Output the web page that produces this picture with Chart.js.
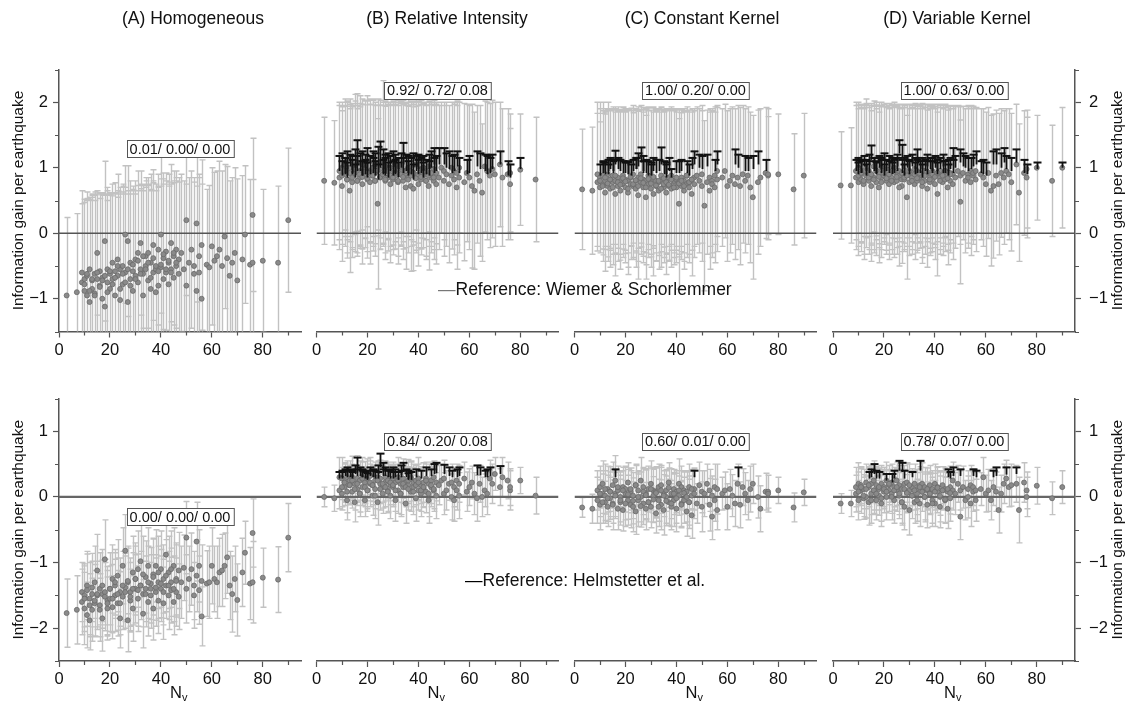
<!DOCTYPE html>
<html><head><meta charset="utf-8">
<script src="https://cdn.jsdelivr.net/npm/chart.js@4.4.1/dist/chart.umd.min.js"></script>
<style>
html,body{margin:0;padding:0;background:#fff}
body{width:1131px;height:710px;position:relative;overflow:hidden;font-family:"Liberation Sans",Arial,Helvetica,sans-serif;color:#111}
canvas{position:absolute;left:0;top:0}
.t{position:absolute;white-space:nowrap;z-index:10;line-height:20px}
.ttl{font-size:17.5px;top:8px;transform:translateX(-50%)}
.leg{font-size:17.5px}
</style></head><body>
<div class="t ttl" style="left:193px">(A) Homogeneous</div>
<div class="t ttl" style="left:447px">(B) Relative Intensity</div>
<div class="t ttl" style="left:702px">(C) Constant Kernel</div>
<div class="t ttl" style="left:957px">(D) Variable Kernel</div>
<div class="t leg" style="left:438px;top:279px"><span style="color:#777">—</span>Reference: Wiemer &amp; Schorlemmer</div>
<div class="t leg" style="left:465px;top:570px"><span style="color:#000">—</span>Reference: Helmstetter et al.</div>
<script>
// ---------- DATA ----------
const Nv = [3,7,9,9,10,10,11,11,12,12,
13,13,14,14,15,15,16,16,17,17,
18,18,19,19,20,20,21,21,22,22,
23,23,24,24,25,25,26,26,27,27,
28,28,29,29,30,30,31,31,32,32,
33,33,34,34,35,35,36,36,37,37,
38,38,39,39,40,40,41,41,42,42,
43,43,44,44,45,45,46,46,47,47,
48,49,50,50,51,52,53,53,54,54,
55,55,56,56,58,59,60,61,62,63,
64,65,66,67,68,69,70,72,73,75,
76,76,80,86,90];
// additional cells in the dense range
const Nv2 = [10,11,12,13,14,15,16,17,18,19,
20,21,22,23,24,25,26,27,28,29,
30,31,32,33,34,35,36,37,38,39,
40,41,42,43,44,45,46];
const xTicks = [0,20,40,60,80];
const yTicksTop = [-1,0,1,2];
const yTicksBottom = [-2,-1,0,1];

// Row 1 (reference: Wiemer & Schorlemmer)
const homogTopY = [-0.95,-0.90,-0.60,-0.75,-0.88,-0.70,-0.65,-0.95,-1.05,-0.55,
-0.72,-0.85,-0.62,-0.92,-0.30,-0.70,-0.80,-0.58,-0.68,-1.00,
-0.12,-1.12,-0.55,-0.75,-0.62,-0.85,-0.45,-0.70,-0.58,-0.95,
-0.40,-0.65,-1.02,-0.55,-0.50,-0.78,-0.02,-0.60,-0.12,-1.05,
-0.45,-0.70,-0.58,-0.88,-0.40,-0.65,-0.30,-0.75,-0.15,-0.55,
-0.62,-0.95,-0.35,-0.50,-0.72,-0.30,-0.45,-0.85,-0.18,-0.60,
-0.55,-0.90,-0.25,-0.80,-0.02,-0.52,-0.38,-0.70,-0.60,-0.28,
-0.45,-0.78,-0.15,-0.55,-0.35,-0.68,-0.25,-0.50,-0.40,-0.62,
-0.30,-0.55,0.20,-0.80,-0.45,-0.25,-0.50,-0.62,0.15,-0.88,
-0.35,-0.60,-0.18,-1.00,-0.48,-0.52,-0.20,-0.42,-0.35,-0.25,
-0.50,-0.05,-0.38,-0.65,-0.45,-0.30,-0.72,-0.40,-0.02,-0.48,
0.28,-0.45,-0.42,-0.45,0.20];
const homogTopErr = [1.19,1.20,1.25,1.20,1.35,1.22,1.18,1.45,1.55,1.10,
1.30,1.40,1.25,1.50,0.95,1.35,1.40,1.20,1.30,1.60,
1.22,1.70,1.25,1.40,1.20,1.45,1.20,1.30,1.35,1.55,
1.30,1.20,1.65,1.25,1.25,1.50,1.05,1.30,1.15,1.70,
1.25,1.35,1.30,1.55,1.20,1.30,1.25,1.40,1.10,1.30,
1.35,1.60,1.20,1.30,1.45,1.15,1.35,1.50,1.15,1.40,
1.30,1.55,1.15,1.50,1.20,1.35,1.30,1.45,1.40,1.20,
1.35,1.50,1.20,1.30,1.30,1.45,1.20,1.35,1.25,1.40,
1.20,1.35,1.15,1.55,1.30,1.20,1.35,1.40,1.20,1.60,
1.25,1.45,1.30,1.75,1.15,1.25,1.20,1.35,1.30,1.35,
1.45,1.10,1.40,1.45,1.30,1.30,1.55,1.28,1.05,1.30,
1.17,1.27,1.09,1.17,1.10];
const homogTopY2 = [-0.78,-0.62,-0.88,-0.70,-0.95,-0.60,-0.82,-0.72,-0.65,-0.90,
-0.58,-0.78,-0.68,-0.50,-0.85,-0.62,-0.75,-0.55,-0.80,-0.48,
-0.70,-0.42,-0.62,-0.35,-0.55,-0.45,-0.68,-0.38,-0.50,-0.58,
-0.48,-0.32,-0.55,-0.42,-0.60,-0.30,-0.45];
const homogTopErr2 = [1.30,1.25,1.40,1.30,1.45,1.20,1.35,1.30,1.25,1.40,
1.20,1.35,1.30,1.15,1.45,1.25,1.35,1.20,1.40,1.20,
1.30,1.15,1.30,1.10,1.25,1.20,1.35,1.15,1.25,1.30,
1.20,1.15,1.30,1.20,1.35,1.10,1.25];

const relTopY = [0.80,0.77,0.95,0.85,1.00,0.72,0.90,1.05,0.82,0.95,
0.65,1.00,0.88,0.78,1.02,0.92,0.80,1.08,0.95,0.85,
0.75,1.05,0.90,0.98,0.82,1.10,0.95,0.78,1.00,0.88,
0.92,0.80,1.05,0.45,0.85,0.98,1.08,0.90,0.80,1.02,
0.95,0.85,0.75,1.00,0.92,0.82,1.05,0.88,0.78,0.98,
0.90,1.02,0.80,0.95,0.70,0.88,1.00,0.85,0.72,0.95,
0.68,0.92,0.85,1.05,0.90,0.75,0.98,0.82,0.88,1.00,
0.80,0.95,0.72,1.02,0.90,0.85,0.98,0.80,0.75,0.92,
0.85,1.00,0.80,0.95,0.90,0.75,0.88,1.00,0.82,0.95,
0.70,0.92,0.85,1.00,0.78,0.92,0.85,0.72,0.65,0.90,
0.80,0.62,1.02,0.95,0.88,0.98,0.90,1.05,0.85,0.90,
0.75,0.92,0.97,0.82,null];
const relTopErr = [0.97,0.95,1.05,1.10,1.00,1.15,1.10,1.00,1.20,1.05,
1.25,1.05,1.10,1.15,1.00,1.20,1.10,1.05,1.15,1.08,
1.22,1.00,1.12,1.05,1.20,1.00,1.10,1.25,1.05,1.15,
1.08,1.15,1.00,1.30,1.10,1.05,1.25,1.10,1.20,1.00,
1.05,1.12,1.20,1.00,1.10,1.15,1.05,1.12,1.25,1.05,
1.10,1.00,1.20,1.08,1.25,1.10,1.05,1.15,1.30,1.05,
1.25,1.10,1.15,1.00,1.12,1.25,1.05,1.15,1.10,1.00,
1.20,1.05,1.28,1.00,1.10,1.15,1.05,1.20,1.22,1.08,
1.10,1.00,1.15,1.05,1.10,1.20,1.12,1.00,1.15,1.05,
1.25,1.10,1.15,1.00,1.20,1.05,1.10,1.25,1.20,1.05,
1.15,1.05,1.00,1.05,1.10,1.05,1.10,0.95,1.05,1.00,
0.85,0.90,0.85,0.95,0];
const relTopY2 = [0.88,0.95,0.82,0.92,0.85,0.98,0.80,0.90,0.86,0.94,
0.84,0.92,0.88,0.80,0.96,0.86,0.90,0.82,0.94,0.88,
0.85,0.92,0.80,0.90,0.86,0.95,0.82,0.88,0.92,0.84,
0.90,0.86,0.94,0.80,0.88,0.92,0.85];
const relTopErr2 = [1.05,1.00,1.12,1.05,1.10,1.00,1.15,1.08,1.10,1.02,
1.12,1.05,1.08,1.15,1.00,1.10,1.05,1.12,1.02,1.08,
1.10,1.05,1.15,1.08,1.10,1.00,1.12,1.08,1.05,1.10,
1.05,1.10,1.02,1.15,1.08,1.05,1.10];
const relTopBlackX = [9,10,11,12,13,14,15,16,17,18,19,20,21,22,23,24,25,26,27,28,
29,30,31,32,33,34,35,36,37,38,39,40,41,42,43,44,45,46,47,48,
50,51,52,53,54,55,56,59,60,63,64,66,67,68,69,72,75,76,80,
10,11,12,14,15,16,18,19,20,22,23,24,26,27,28,30,31,32,34,36,38,40,42,44,46];
const relTopBlackHi = [1.18,1.22,1.15,1.25,1.20,1.18,1.28,1.42,1.22,1.25,1.20,1.30,1.18,1.25,1.22,1.32,1.40,1.28,1.20,1.22,
1.18,1.25,1.20,1.15,1.22,1.38,1.20,1.18,1.15,1.22,1.18,1.20,1.15,1.18,1.12,1.20,1.25,1.30,1.18,1.30,
1.30,1.22,1.25,1.18,1.20,1.25,1.15,1.12,1.18,1.25,1.22,1.20,1.18,1.15,1.20,1.25,1.10,1.05,1.15,
1.10,1.15,1.08,1.12,1.05,1.18,1.10,1.12,1.08,1.15,1.10,1.05,1.12,1.15,1.08,1.10,1.12,1.08,1.15,1.10,1.05,1.12,1.08,1.10,1.15];
const relTopBlackLo = [0.95,1.00,0.90,0.98,1.02,0.92,1.00,1.05,0.95,0.88,1.00,0.95,0.90,1.02,0.98,1.05,1.00,0.92,0.88,1.00,
0.95,1.02,0.92,0.98,1.00,1.05,0.95,0.92,0.90,1.00,0.95,0.98,0.92,0.95,0.90,0.98,1.00,1.05,0.95,1.05,
1.05,1.00,0.98,0.92,0.95,1.02,0.92,0.90,0.92,1.02,0.98,0.95,0.90,0.92,0.98,1.05,0.88,0.85,0.98,
0.88,0.92,0.85,0.90,0.85,0.95,0.88,0.90,0.85,0.92,0.88,0.82,0.90,0.92,0.85,0.88,0.90,0.85,0.92,0.88,0.82,0.90,0.85,0.88,0.92];

const constTopY = [0.67,0.65,0.90,0.78,0.85,0.70,0.75,0.88,0.62,0.80,
0.90,0.72,0.82,0.68,0.78,0.88,0.60,0.80,0.85,0.72,
0.78,0.65,0.88,0.75,0.70,0.82,0.80,0.62,0.85,0.75,
0.72,0.90,0.68,0.80,0.85,0.58,0.78,0.90,0.70,0.82,
0.55,0.80,0.75,0.88,0.68,0.78,0.85,0.60,0.72,0.80,
0.78,0.65,0.82,0.88,0.70,0.75,0.80,0.62,0.85,0.72,
0.68,0.88,0.75,0.80,0.82,0.70,0.45,0.78,0.85,0.72,
0.80,0.65,0.75,0.88,0.70,0.78,0.82,0.60,0.75,0.85,
0.88,0.80,0.72,0.90,0.42,0.78,0.85,0.65,0.80,0.75,
0.70,0.88,0.95,0.82,0.85,0.95,0.72,0.80,0.88,0.75,
0.85,0.72,0.90,0.80,0.88,0.70,0.55,0.78,0.85,0.92,
0.88,0.90,0.90,0.67,0.88];
const constTopErr = [0.92,0.97,1.10,1.05,1.15,1.00,1.08,1.12,1.20,1.05,
1.10,1.15,1.05,1.20,1.10,1.05,1.25,1.10,1.08,1.15,
1.10,1.20,1.05,1.12,1.15,1.08,1.10,1.25,1.05,1.15,
1.12,1.05,1.20,1.10,1.08,1.28,1.10,1.05,1.15,1.10,
1.25,1.10,1.12,1.05,1.20,1.10,1.08,1.25,1.15,1.10,
1.12,1.20,1.10,1.05,1.15,1.12,1.10,1.25,1.05,1.15,
1.20,1.05,1.12,1.10,1.08,1.15,1.30,1.10,1.05,1.12,
1.10,1.20,1.12,1.05,1.15,1.10,1.08,1.25,1.12,1.05,
1.05,1.10,1.15,1.05,1.30,1.10,1.05,1.20,1.10,1.12,
1.15,1.05,1.00,1.10,1.05,1.02,1.15,1.10,1.05,1.15,
1.10,1.20,1.05,1.10,1.05,1.15,1.25,1.10,1.05,1.00,
0.90,1.00,0.92,0.85,0.95];
const constTopY2 = [0.80,0.72,0.85,0.76,0.82,0.70,0.88,0.78,0.74,0.84,
0.79,0.68,0.86,0.75,0.81,0.72,0.84,0.77,0.70,0.83,
0.76,0.86,0.73,0.80,0.68,0.84,0.78,0.74,0.82,0.70,
0.85,0.76,0.80,0.72,0.88,0.78,0.82];
const constTopErr2 = [1.10,1.15,1.05,1.12,1.08,1.18,1.05,1.10,1.15,1.08,
1.10,1.20,1.05,1.12,1.08,1.15,1.05,1.12,1.18,1.08,
1.12,1.05,1.15,1.10,1.20,1.05,1.10,1.15,1.08,1.18,
1.05,1.12,1.08,1.15,1.05,1.10,1.08];
const constTopBlackX = [10,11,12,13,14,15,16,17,18,
20,21,22,23,24,25,26,27,28,29,30,31,32,
34,35,36,37,38,
40,42,44,46,47,49,50,52,55,56,
63,64,67,68,70,72,75,
11,13,15,19,21,24,27,30,33,36,41,45];
const constTopBlackHi = [1.05,1.10,1.08,1.12,1.15,1.10,1.26,1.15,1.12,
1.08,1.10,1.05,1.12,1.15,1.22,1.31,1.18,1.12,1.10,1.08,1.15,1.12,
1.31,1.10,1.05,1.15,0.98,
1.10,1.12,1.10,1.15,1.25,1.20,1.18,1.20,1.12,1.25,
1.28,1.20,1.18,1.15,1.18,1.25,1.12,
1.08,1.05,1.12,1.10,1.08,1.15,1.10,1.05,1.12,1.08,1.10,1.05];
const constTopBlackLo = [0.88,0.92,0.90,0.95,0.98,0.92,1.05,0.98,0.95,
0.92,0.90,0.88,0.95,0.98,1.02,1.08,0.95,0.92,0.88,0.90,0.95,0.92,
1.05,0.90,0.85,0.95,0.85,
0.92,0.95,0.92,0.98,1.05,1.00,0.98,1.02,0.95,1.05,
1.05,1.00,0.95,0.95,0.98,1.05,0.95,
0.92,0.90,0.95,0.92,0.90,0.98,0.92,0.88,0.95,0.90,0.92,0.88];

const varTopY = [0.73,0.73,0.95,0.85,1.00,0.78,0.90,0.82,0.95,0.75,
1.00,0.88,0.80,0.95,0.72,0.90,1.02,0.85,0.78,0.95,
0.92,0.70,1.00,0.85,0.88,0.95,0.80,0.98,0.75,0.90,
0.85,0.95,0.78,1.00,0.92,0.80,0.88,0.95,0.82,0.72,
0.90,0.82,0.55,0.95,0.88,0.78,0.92,0.85,0.98,0.75,
0.80,0.95,0.85,0.90,0.72,0.88,0.95,0.80,0.68,0.92,
0.85,0.78,0.95,0.82,0.88,0.75,0.92,0.60,0.85,0.95,
0.78,0.90,0.82,0.95,0.70,0.88,0.92,0.80,0.75,0.90,
0.85,0.95,0.88,0.48,0.92,0.80,0.90,0.85,0.95,0.78,
0.88,0.92,0.82,0.95,0.90,0.85,0.75,0.92,0.65,0.72,
0.88,0.75,0.92,0.85,0.95,0.90,0.78,1.05,0.62,0.92,
0.85,0.98,1.00,0.80,1.00];
const varTopErr = [0.82,0.88,1.05,1.10,1.00,1.12,1.05,1.10,1.00,1.15,
1.05,1.10,1.12,1.00,1.15,1.08,1.00,1.10,1.12,1.05,
1.08,1.15,1.00,1.10,1.05,1.02,1.12,1.00,1.15,1.08,
1.10,1.02,1.15,1.00,1.05,1.12,1.08,1.02,1.10,1.18,
1.05,1.10,1.25,1.02,1.08,1.12,1.05,1.10,1.00,1.15,
1.10,1.02,1.08,1.05,1.18,1.10,1.02,1.12,1.20,1.05,
1.08,1.12,1.02,1.10,1.05,1.15,1.05,1.25,1.10,1.02,
1.12,1.05,1.10,1.00,1.18,1.05,1.02,1.10,1.15,1.05,
1.08,1.00,1.05,1.25,1.02,1.10,1.05,1.08,1.00,1.12,
1.05,1.02,1.10,0.95,1.00,1.05,1.10,1.00,1.15,1.10,
1.00,1.08,0.98,1.02,0.95,1.00,1.05,0.92,1.05,0.95,
0.92,0.90,0.80,0.85,0.92];
const varTopY2 = [0.88,0.92,0.80,0.95,0.85,0.90,0.82,0.96,0.86,0.78,
0.92,0.84,0.90,0.80,0.94,0.86,0.70,0.92,0.85,0.88,
0.95,0.80,0.90,0.84,0.92,0.78,0.88,0.94,0.82,0.90,
0.86,0.92,0.80,0.88,0.95,0.84,0.90];
const varTopErr2 = [1.08,1.05,1.12,1.02,1.10,1.05,1.12,1.00,1.08,1.15,
1.05,1.10,1.05,1.12,1.02,1.08,1.20,1.05,1.10,1.08,
1.02,1.12,1.05,1.10,1.05,1.15,1.08,1.02,1.12,1.05,
1.08,1.05,1.12,1.08,1.02,1.10,1.05];
const varTopBlackX = [9,10,11,12,13,14,15,16,17,18,19,20,21,22,23,24,25,26,27,28,
29,30,31,32,33,34,35,36,37,38,39,40,41,42,43,44,45,46,47,48,
50,51,52,54,55,56,
59,60,63,64,66,67,68,70,72,75,76,80,90,
10,11,13,14,16,17,19,20,22,23,25,27,28,30,32,33,35,37,39,41,43,45,47,53,58];
const varTopBlackHi = [1.12,1.15,1.10,1.18,1.12,1.20,1.34,1.15,1.10,1.18,1.15,1.22,1.12,1.18,1.15,1.12,1.20,1.42,1.35,1.15,
1.18,1.12,1.20,1.15,1.28,1.10,1.15,1.12,1.20,1.15,1.10,1.18,1.12,1.15,1.20,1.10,1.12,1.15,1.30,1.18,
1.28,1.22,1.18,1.15,1.20,1.25,
1.12,1.08,1.25,1.28,1.22,1.30,1.18,1.15,1.28,1.12,1.05,1.08,1.08,
1.08,1.12,1.05,1.10,1.15,1.08,1.12,1.05,1.10,1.08,1.15,1.12,1.05,1.10,1.08,1.12,1.05,1.10,1.15,1.08,1.10,1.05,1.12,1.15,1.10];
const varTopBlackLo = [0.95,1.00,0.92,1.02,0.95,1.05,1.12,0.98,0.92,1.00,0.98,1.05,0.95,1.00,0.98,0.92,1.02,1.22,1.15,0.98,
1.00,0.95,1.02,0.98,1.10,0.92,0.98,0.95,1.02,0.98,0.92,1.00,0.95,0.98,1.02,0.92,0.95,0.98,1.12,1.00,
1.08,1.02,1.00,0.98,1.02,1.05,
0.90,0.88,1.05,1.05,1.00,1.08,0.98,0.95,1.08,0.92,0.90,0.98,1.00,
0.90,0.92,0.88,0.92,0.95,0.90,0.92,0.88,0.92,0.90,0.95,0.92,0.88,0.90,0.90,0.92,0.85,0.90,0.95,0.90,0.92,0.88,0.92,0.95,0.92];

// Row 2 (reference: Helmstetter et al.)
const homogBotY = [-1.77,-1.72,-1.45,-1.60,-1.70,-1.50,-1.35,-1.80,-1.88,-1.55,
-1.48,-1.72,-1.30,-1.62,-1.12,-1.50,-1.65,-1.40,-1.85,-1.48,
-0.95,-1.45,-1.58,-1.70,-1.40,-1.55,-1.25,-1.68,-1.50,-1.35,
-1.62,-1.20,-1.85,-1.45,-1.05,-1.52,-0.82,-1.38,-1.88,-1.30,
-1.45,-1.58,-1.15,-1.70,-1.40,-1.25,-1.55,-1.10,-1.35,-0.98,
-1.48,-1.78,-1.22,-1.40,-1.05,-1.60,-1.32,-1.50,-1.18,-1.70,
-1.05,-1.45,-1.58,-1.30,-1.10,-1.40,-1.25,-1.62,-0.88,-1.35,
-1.50,-1.15,-1.42,-1.30,-1.05,-1.60,-1.25,-1.45,-1.12,-1.52,
-1.30,-1.08,-0.62,-1.40,-1.25,-1.10,-1.35,-1.50,-0.68,-1.20,
-1.05,-1.42,-1.82,-1.28,-1.32,-1.30,-1.05,-1.25,-1.30,-1.15,
-1.12,-1.05,-0.92,-1.35,-1.48,-1.25,-1.57,-1.15,-0.85,-1.32,
-0.55,-1.30,-1.23,-1.26,-0.62];
const homogBotErr = [0.52,0.52,0.45,0.50,0.55,0.48,0.52,0.50,0.45,0.55,
0.50,0.48,0.55,0.50,0.55,0.52,0.48,0.55,0.50,0.52,
0.60,0.50,0.52,0.48,0.55,0.50,0.52,0.48,0.55,0.50,
0.50,0.55,0.45,0.52,0.58,0.50,0.55,0.52,0.48,0.55,
0.52,0.48,0.55,0.50,0.52,0.55,0.50,0.58,0.52,0.55,
0.50,0.52,0.55,0.50,0.58,0.52,0.55,0.50,0.55,0.48,
0.55,0.52,0.50,0.55,0.58,0.50,0.52,0.55,0.60,0.50,
0.52,0.55,0.50,0.52,0.58,0.50,0.55,0.52,0.58,0.50,
0.55,0.50,0.55,0.52,0.50,0.55,0.52,0.50,0.60,0.55,
0.55,0.52,0.45,0.55,0.50,0.55,0.58,0.50,0.55,0.52,
0.55,0.50,0.55,0.52,0.58,0.50,0.55,0.52,0.48,0.55,
0.52,0.62,0.45,0.50,0.52];
const homogBotY2 = [-1.55,-1.42,-1.65,-1.38,-1.58,-1.48,-1.72,-1.35,-1.52,-1.62,
-1.40,-1.55,-1.30,-1.48,-1.62,-1.35,-1.45,-1.28,-1.52,-1.40,
-1.25,-1.42,-1.35,-1.18,-1.48,-1.30,-1.40,-1.22,-1.38,-1.15,
-1.32,-1.45,-1.20,-1.35,-1.10,-1.40,-1.28];
const homogBotErr2 = [0.50,0.55,0.48,0.52,0.55,0.50,0.48,0.55,0.52,0.50,
0.55,0.52,0.50,0.55,0.48,0.52,0.55,0.50,0.52,0.55,
0.50,0.55,0.52,0.58,0.50,0.55,0.52,0.58,0.50,0.55,
0.52,0.50,0.55,0.52,0.58,0.50,0.55];

const relBotY = [0.00,-0.02,0.30,0.10,0.28,0.05,0.22,0.15,0.30,-0.05,
0.18,0.25,0.08,0.30,0.20,-0.08,0.28,0.12,0.05,0.25,
0.30,0.15,0.22,-0.05,0.28,0.10,0.20,0.32,0.02,0.18,
0.25,0.12,0.30,-0.08,0.20,0.28,0.15,0.05,0.22,0.30,
0.10,0.25,0.18,0.02,0.28,0.15,-0.05,0.22,0.30,0.10,
0.20,0.05,0.28,0.15,0.22,-0.10,0.18,0.25,0.08,0.30,
0.15,0.22,-0.02,0.25,0.10,0.28,0.18,0.05,0.22,0.12,
0.28,0.08,0.20,-0.05,0.25,0.15,0.30,0.10,0.02,0.22,
0.18,0.25,0.05,0.28,0.10,0.20,0.00,0.22,0.15,-0.05,
0.25,0.10,0.02,0.20,0.28,0.08,0.15,0.22,0.05,-0.02,
0.20,0.00,0.10,0.05,0.28,0.20,0.35,0.15,0.30,0.25,
0.10,0.15,0.25,0.02,null];
const relBotErr = [0.15,0.20,0.30,0.28,0.32,0.25,0.30,0.28,0.25,0.30,
0.28,0.30,0.25,0.32,0.28,0.30,0.35,0.25,0.28,0.30,
0.30,0.28,0.32,0.25,0.30,0.28,0.35,0.28,0.30,0.25,
0.28,0.30,0.25,0.35,0.30,0.28,0.32,0.30,0.28,0.25,
0.32,0.28,0.30,0.35,0.25,0.30,0.32,0.28,0.30,0.35,
0.28,0.32,0.30,0.25,0.35,0.30,0.28,0.32,0.30,0.25,
0.30,0.28,0.35,0.25,0.30,0.32,0.28,0.35,0.30,0.28,
0.25,0.32,0.30,0.35,0.28,0.30,0.25,0.32,0.35,0.28,
0.30,0.25,0.32,0.28,0.30,0.25,0.35,0.28,0.30,0.32,
0.25,0.30,0.35,0.28,0.25,0.30,0.28,0.25,0.32,0.35,
0.28,0.30,0.25,0.32,0.28,0.30,0.25,0.28,0.30,0.28,
0.30,0.28,0.20,0.28,0];
const relBotY2 = [0.15,0.22,0.08,0.18,0.25,0.12,0.20,0.05,0.28,0.15,
0.10,0.22,0.18,0.02,0.25,0.12,0.20,0.15,0.08,0.22,
0.18,0.10,0.25,0.05,0.20,0.15,0.12,0.28,0.08,0.18,
0.22,0.10,0.15,0.25,0.05,0.18,0.12];
const relBotErr2 = [0.30,0.28,0.32,0.30,0.25,0.32,0.28,0.35,0.25,0.30,
0.32,0.28,0.30,0.35,0.25,0.32,0.28,0.30,0.32,0.28,
0.30,0.32,0.25,0.35,0.28,0.30,0.32,0.25,0.35,0.30,
0.28,0.32,0.30,0.25,0.35,0.28,0.30];
const relBotBlackX = [9,10,11,12,13,14,15,16,17,18,19,20,21,22,23,24,25,26,27,28,29,30,31,32,33,34,35,36,37,
39,41,43,46,47,50,52,55,56,63,64,66,67,68,72,
10,12,14,16,18,20,22,24,26,28,30,33,36,45,53];
const relBotBlackHi = [0.38,0.40,0.42,0.45,0.42,0.40,0.48,0.60,0.45,0.42,0.38,0.40,0.45,0.42,0.40,0.48,0.66,0.52,0.45,0.42,0.40,0.45,0.42,0.38,0.48,0.52,0.42,0.40,0.38,
0.42,0.40,0.45,0.50,0.52,0.49,0.45,0.42,0.45,0.48,0.45,0.40,0.42,0.45,0.47,
0.38,0.40,0.38,0.42,0.40,0.36,0.40,0.38,0.42,0.40,0.38,0.40,0.36,0.42,0.40];
const relBotBlackLo = [0.28,0.30,0.32,0.33,0.30,0.30,0.35,0.42,0.32,0.30,0.28,0.28,0.32,0.30,0.28,0.35,0.45,0.38,0.32,0.30,0.28,0.32,0.30,0.26,0.33,0.38,0.30,0.28,0.26,
0.30,0.28,0.32,0.35,0.36,0.35,0.32,0.30,0.32,0.33,0.33,0.30,0.30,0.32,0.35,
0.28,0.30,0.28,0.32,0.30,0.26,0.30,0.28,0.32,0.30,0.28,0.30,0.26,0.32,0.30];

const constBotY = [-0.16,-0.18,0.10,-0.05,0.15,-0.12,0.05,0.20,-0.08,0.02,
0.12,-0.15,0.08,-0.02,0.18,-0.10,0.25,0.05,-0.18,0.10,
0.00,-0.08,0.15,-0.20,0.05,0.12,-0.05,0.22,-0.12,0.08,
0.02,-0.15,0.18,-0.22,0.10,-0.05,0.25,0.00,-0.10,0.15,
-0.18,0.05,0.12,-0.08,0.20,-0.15,0.02,0.10,-0.25,0.08,
0.15,-0.05,-0.12,0.18,0.05,-0.20,0.10,0.00,-0.08,0.22,
0.05,-0.15,0.12,-0.05,0.08,-0.18,0.20,0.02,-0.10,0.15,
-0.05,0.10,-0.22,0.08,0.15,-0.08,0.02,-0.28,0.12,0.05,
-0.10,0.18,0.08,-0.15,0.05,0.20,-0.12,0.10,-0.30,0.02,
0.15,-0.05,0.12,-0.20,0.05,0.10,-0.15,0.12,0.02,-0.10,
0.20,-0.12,0.15,0.05,-0.05,0.12,0.20,0.00,-0.18,0.08,
0.08,0.05,0.10,-0.16,0.07];
const constBotErr = [0.15,0.22,0.30,0.35,0.32,0.38,0.30,0.35,0.32,0.38,
0.35,0.30,0.38,0.32,0.35,0.30,0.38,0.35,0.32,0.30,
0.38,0.35,0.30,0.32,0.40,0.35,0.38,0.30,0.35,0.32,
0.35,0.38,0.32,0.35,0.30,0.40,0.35,0.38,0.32,0.30,
0.32,0.38,0.35,0.30,0.35,0.32,0.40,0.35,0.30,0.38,
0.35,0.32,0.38,0.30,0.35,0.38,0.32,0.40,0.35,0.30,
0.38,0.35,0.30,0.40,0.32,0.35,0.38,0.30,0.35,0.32,
0.35,0.30,0.38,0.32,0.35,0.40,0.30,0.35,0.32,0.38,
0.30,0.35,0.32,0.38,0.35,0.30,0.40,0.32,0.35,0.30,
0.35,0.32,0.38,0.30,0.25,0.28,0.35,0.30,0.32,0.35,
0.30,0.35,0.28,0.32,0.30,0.35,0.30,0.32,0.35,0.28,
0.25,0.28,0.20,0.22,0.20];
const constBotY2 = [0.05,-0.08,0.12,-0.02,0.08,-0.12,0.02,0.15,-0.05,0.10,
-0.10,0.04,0.12,-0.06,0.18,0.00,-0.14,0.08,0.03,-0.08,
0.12,-0.04,0.06,-0.15,0.10,0.02,-0.06,0.14,-0.10,0.05,
-0.02,0.10,-0.12,0.06,0.00,-0.08,0.12];
const constBotErr2 = [0.35,0.32,0.38,0.35,0.30,0.38,0.35,0.32,0.38,0.30,
0.35,0.38,0.32,0.35,0.30,0.38,0.32,0.35,0.38,0.30,
0.32,0.35,0.38,0.30,0.35,0.32,0.38,0.30,0.35,0.32,
0.38,0.30,0.35,0.32,0.38,0.35,0.30];
const constBotBlackX = [16,47,64];
const constBotBlackHi = [0.42,0.40,0.45];
const constBotBlackLo = [0.30,0.30,0.30];

const varBotY = [-0.10,-0.10,0.15,0.05,0.20,-0.05,0.10,0.18,-0.02,0.12,
0.22,0.00,0.15,-0.08,0.20,0.05,0.25,0.10,-0.05,0.18,
0.12,0.02,0.20,-0.10,0.15,0.08,0.25,0.00,0.18,0.10,
0.05,0.22,-0.05,0.15,0.10,0.25,0.02,0.18,-0.08,0.12,
0.20,-0.15,0.08,0.22,-0.20,0.10,0.15,0.02,0.20,-0.08,
0.12,0.05,0.18,-0.10,0.08,0.20,0.00,0.15,-0.12,0.10,
0.05,0.18,-0.05,0.12,0.20,-0.10,0.08,0.15,0.00,-0.15,
0.10,0.18,-0.05,0.12,-0.18,0.08,0.15,-0.02,0.10,0.25,
0.05,0.20,-0.30,0.10,0.15,-0.05,0.12,0.00,0.18,-0.10,
0.08,0.15,-0.05,0.10,0.12,0.30,0.05,0.10,-0.05,0.15,
0.08,-0.20,0.05,0.20,0.28,0.15,0.18,0.20,-0.20,0.22,
0.10,0.00,0.17,-0.02,0.15];
const varBotErr = [0.15,0.20,0.30,0.28,0.32,0.30,0.35,0.28,0.32,0.30,
0.28,0.32,0.30,0.35,0.28,0.32,0.30,0.35,0.30,0.28,
0.32,0.30,0.28,0.35,0.30,0.32,0.28,0.35,0.30,0.32,
0.30,0.28,0.35,0.30,0.32,0.28,0.35,0.30,0.32,0.30,
0.28,0.35,0.32,0.30,0.38,0.30,0.28,0.35,0.30,0.32,
0.30,0.32,0.28,0.35,0.30,0.32,0.38,0.30,0.35,0.28,
0.32,0.30,0.35,0.28,0.30,0.35,0.32,0.30,0.38,0.32,
0.30,0.28,0.35,0.32,0.30,0.28,0.32,0.35,0.30,0.28,
0.32,0.28,0.35,0.30,0.32,0.30,0.28,0.32,0.30,0.35,
0.30,0.28,0.32,0.30,0.25,0.30,0.28,0.32,0.30,0.28,
0.30,0.35,0.28,0.30,0.28,0.30,0.32,0.28,0.50,0.30,
0.28,0.30,0.28,0.25,0.25];
const varBotY2 = [0.08,0.15,0.02,0.12,0.18,-0.05,0.10,0.05,0.15,-0.02,
0.12,0.08,0.20,0.00,0.10,0.15,0.05,-0.08,0.12,0.06,
0.18,0.02,0.10,-0.05,0.15,0.08,0.00,0.12,0.05,-0.10,
0.08,0.14,0.02,0.10,-0.04,0.12,0.06];
const varBotErr2 = [0.30,0.28,0.32,0.30,0.28,0.35,0.30,0.32,0.28,0.35,
0.30,0.32,0.28,0.35,0.30,0.28,0.32,0.35,0.30,0.28,
0.32,0.35,0.30,0.32,0.28,0.30,0.35,0.32,0.30,0.35,
0.28,0.32,0.30,0.28,0.35,0.30,0.32];
const varBotBlackX = [14,15,16,17,18,21,23,24,26,27,28,31,34,45,46,47,50,55,56,63,64,68,72];
const varBotBlackHi = [0.38,0.42,0.50,0.40,0.38,0.35,0.35,0.40,0.55,0.52,0.40,0.38,0.55,0.42,0.38,0.45,0.42,0.42,0.40,0.40,0.45,0.45,0.45];
const varBotBlackLo = [0.28,0.30,0.35,0.28,0.28,0.25,0.22,0.28,0.40,0.38,0.28,0.30,0.40,0.30,0.28,0.32,0.32,0.32,0.30,0.30,0.32,0.34,0.35];

const notes = ['0.01/ 0.00/ 0.00','0.92/ 0.72/ 0.08','1.00/ 0.20/ 0.00','1.00/ 0.63/ 0.00',
               '0.00/ 0.00/ 0.00','0.84/ 0.20/ 0.08','0.60/ 0.01/ 0.00','0.78/ 0.07/ 0.00'];
const noteLevels = [1.29,2.18,2.18,2.18,-0.30,0.85,0.85,0.85];

// ---------- LAYOUT ----------
const FONT = '"Liberation Sans", Arial, Helvetica, sans-serif';
const COLS = [[59,301],[316.5,558.5],[574.5,816.5],[833,1075]];
const ROWS = [
  {top:69.5,bottom:331.5,min:-1.5,max:2.5,ticks:yTicksTop,xh:30},
  {top:398.5,bottom:661,min:-2.5,max:1.5,ticks:yTicksBottom,xh:50}
];
const panels = [
  {y:homogTopY,e:homogTopErr,y2:homogTopY2,e2:homogTopErr2,bx:[],bh:[],bl:[]},
  {y:relTopY,e:relTopErr,y2:relTopY2,e2:relTopErr2,bx:relTopBlackX,bh:relTopBlackHi,bl:relTopBlackLo},
  {y:constTopY,e:constTopErr,y2:constTopY2,e2:constTopErr2,bx:constTopBlackX,bh:constTopBlackHi,bl:constTopBlackLo},
  {y:varTopY,e:varTopErr,y2:varTopY2,e2:varTopErr2,bx:varTopBlackX,bh:varTopBlackHi,bl:varTopBlackLo},
  {y:homogBotY,e:homogBotErr,y2:homogBotY2,e2:homogBotErr2,bx:[],bh:[],bl:[]},
  {y:relBotY,e:relBotErr,y2:relBotY2,e2:relBotErr2,bx:relBotBlackX,bh:relBotBlackHi,bl:relBotBlackLo},
  {y:constBotY,e:constBotErr,y2:constBotY2,e2:constBotErr2,bx:constBotBlackX,bh:constBotBlackHi,bl:constBotBlackLo},
  {y:varBotY,e:varBotErr,y2:varBotY2,e2:varBotErr2,bx:varBotBlackX,bh:varBotBlackHi,bl:varBotBlackLo}
];
panels.forEach((p,i)=>{
  if(p.y.length!==Nv.length||p.e.length!==Nv.length) throw new Error('len mismatch panel '+i);
  if(p.y2.length!==Nv2.length||p.e2.length!==Nv2.length) throw new Error('len2 mismatch panel '+i);
  if(p.bx.length!==p.bh.length||p.bx.length!==p.bl.length) throw new Error('black len mismatch panel '+i);
});
const allN = Nv.concat(Nv2);

const fmt = v => v<0 ? '\u2212'+Math.abs(v) : String(v);

function makePlugin(p, r, c, idx){
  const R = ROWS[r];
  const Y = p.y.concat(p.y2), E = p.e.concat(p.e2);
  return {
    id:'errbars'+idx,
    beforeDatasetsDraw(chart){
      const {ctx, chartArea:a, scales:{x,y}} = chart;
      ctx.save();
      ctx.beginPath(); ctx.rect(a.left,a.top,a.right-a.left,a.bottom-a.top); ctx.clip();
      ctx.strokeStyle='#c2c2c2'; ctx.lineWidth=1.4;
      ctx.beginPath();
      allN.forEach((n,i)=>{
        const v=Y[i]; if(v==null) return;
        const px=Math.round(x.getPixelForValue(n))+0.5;
        const t=y.getPixelForValue(v+E[i]), b=y.getPixelForValue(v-E[i]);
        ctx.moveTo(px,t); ctx.lineTo(px,b);
        ctx.moveTo(px-3,t); ctx.lineTo(px+3,t);
        ctx.moveTo(px-3,b); ctx.lineTo(px+3,b);
      });
      ctx.stroke();
      const z=y.getPixelForValue(0);
      ctx.strokeStyle= r===0 ? '#555' : '#666'; ctx.lineWidth= r===0 ? 1.6 : 2.2;
      ctx.beginPath(); ctx.moveTo(a.left,z); ctx.lineTo(a.right,z); ctx.stroke();
      ctx.restore();
    },
    afterDatasetsDraw(chart){
      const {ctx, scales:{x,y}} = chart;
      ctx.save();
      ctx.strokeStyle='#111';
      p.bx.forEach((n,i)=>{
        const px=Math.round(x.getPixelForValue(n))+0.5;
        const t=y.getPixelForValue(p.bh[i]), b=y.getPixelForValue(p.bl[i]);
        ctx.lineWidth=1.8; ctx.beginPath(); ctx.moveTo(px,t); ctx.lineTo(px,b); ctx.stroke();
        ctx.lineWidth=2; ctx.beginPath(); ctx.moveTo(px-4,t); ctx.lineTo(px+4,t); ctx.stroke();
      });
      ctx.font='14.5px '+FONT;
      const txt=notes[idx];
      const w=ctx.measureText(txt).width;
      const cx=x.getPixelForValue(47.5), cy=y.getPixelForValue(noteLevels[idx]);
      const bw=w+6, bh=17;
      const bx=Math.round(cx-bw/2)+0.5, by=Math.round(cy-bh/2)+0.5;
      ctx.fillStyle='#fff'; ctx.fillRect(bx,by,bw,bh);
      ctx.strokeStyle='#555'; ctx.lineWidth=1; ctx.strokeRect(bx,by,bw,bh);
      ctx.fillStyle='#111'; ctx.textAlign='center'; ctx.textBaseline='middle';
      ctx.fillText(txt,cx,cy+1);
      ctx.restore();
    },
    afterDraw(chart){
      const {ctx, chartArea:a, scales:{x,y}} = chart;
      ctx.save();
      ctx.strokeStyle='#555'; ctx.lineWidth=1.2;
      ctx.beginPath();
      [10,30,50,70,90].forEach(v=>{const px=Math.round(x.getPixelForValue(v))+0.5; ctx.moveTo(px,a.bottom); ctx.lineTo(px,a.bottom+4);});
      if(c===0||c===3){
        for(let v=R.min; v<=R.max+1e-9; v+=1){
          const py=Math.round(y.getPixelForValue(v))+0.5;
          if(c===0){ctx.moveTo(a.left,py); ctx.lineTo(a.left-4,py);} else {ctx.moveTo(a.right,py); ctx.lineTo(a.right+4,py);}
        }
      }
      ctx.stroke();
      ctx.fillStyle='#111';
      if(r===1){
        const cx=(a.left+a.right)/2;
        ctx.font='16.5px '+FONT; ctx.textBaseline='middle'; ctx.textAlign='right';
        ctx.fillText('N',cx+2,693);
        ctx.font='11px '+FONT; ctx.textAlign='left';
        ctx.fillText('v',cx+2,698);
      }
      if(c===3){
        ctx.translate(1118,(a.top+a.bottom)/2); ctx.rotate(-Math.PI/2);
        ctx.font='15.5px '+FONT; ctx.textAlign='center'; ctx.textBaseline='middle';
        ctx.fillText('Information gain per earthquake',0,0);
      }
      ctx.restore();
    }
  };
}

panels.forEach((p,idx)=>{
  const r=Math.floor(idx/4), c=idx%4;
  const R=ROWS[r], C=COLS[c];
  const cv=document.createElement('canvas');
  cv.width=1131; cv.height=710; cv.style.width='1131px'; cv.style.height='710px';
  document.body.appendChild(cv);
  const yW = c===0 ? 59 : (c===3 ? 56 : 0);
  const pad = {
    left: C[0] - (c===0 ? yW : 0),
    right: 1131 - C[1] - (c===3 ? yW : 0),
    top: R.top,
    bottom: 710 - R.bottom - R.xh
  };
  const Y = p.y.concat(p.y2);
  const pts = allN.map((n,i)=>({x:n,y:Y[i]})).filter(d=>d.y!=null);
  new Chart(cv,{
    type:'scatter',
    data:{datasets:[{data:pts,pointRadius:2.5,pointBackgroundColor:'#8a8a8a',pointBorderColor:'#6a6a6a',pointBorderWidth:0.8,showLine:false}]},
    options:{
      responsive:false, animation:false, devicePixelRatio:1,
      layout:{padding:pad},
      plugins:{legend:{display:false},tooltip:{enabled:false}},
      scales:{
        x:{type:'linear',position:'bottom',min:0,max:95,
          afterBuildTicks:s=>{s.ticks=xTicks.map(v=>({value:v}));},
          afterFit:s=>{s.height=R.xh;},
          ticks:{color:'#111',font:{size:16.5,family:FONT},padding:3,maxRotation:0,autoSkip:false},
          grid:{drawOnChartArea:false,drawTicks:true,tickLength:6,color:'#555',tickWidth:1.2},
          border:{display:true,color:'#555',width:1.5}
        },
        y:{type:'linear',display:(c===0||c===3),position:c===3?'right':'left',min:R.min,max:R.max,
          afterBuildTicks:s=>{s.ticks=R.ticks.map(v=>({value:v}));},
          afterFit:s=>{s.width=yW;},
          ticks:{color:'#111',font:{size:16.5,family:FONT},padding:c===3?8:5,callback:v=>fmt(v)},
          grid:{drawOnChartArea:false,drawTicks:true,tickLength:6,color:'#555',tickWidth:1.2},
          border:{display:true,color:'#555',width:1.5},
          title:{display:c===0,text:'Information gain per earthquake',color:'#111',font:{size:15.5,family:FONT},padding:{top:9,bottom:0}}
        }
      }
    },
    plugins:[makePlugin(p,r,c,idx)]
  });
});
</script>
</body></html>
